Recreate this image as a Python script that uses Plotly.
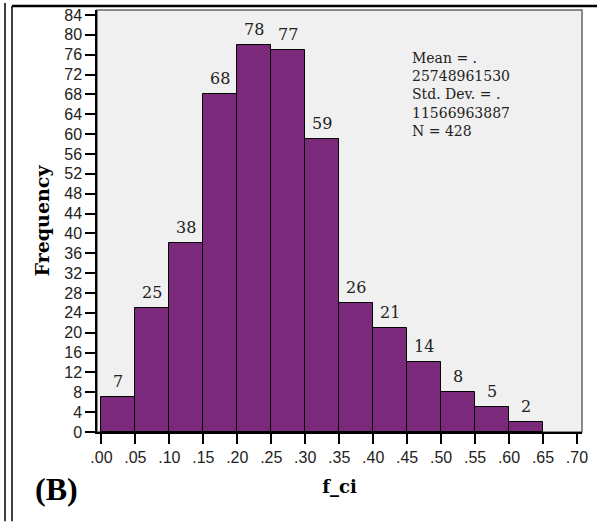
import numpy as np
import plotly.graph_objects as go

# ---- data ----
bin_edges = [0.00, 0.05, 0.10, 0.15, 0.20, 0.25, 0.30, 0.35, 0.40, 0.45, 0.50, 0.55, 0.60, 0.65]
counts = [7, 25, 38, 68, 78, 77, 59, 26, 21, 14, 8, 5, 2]
x_tickvals = [0.00, 0.05, 0.10, 0.15, 0.20, 0.25, 0.30, 0.35, 0.40, 0.45, 0.50, 0.55, 0.60, 0.65, 0.70]
x_ticktext = [".00", ".05", ".10", ".15", ".20", ".25", ".30", ".35", ".40", ".45", ".50", ".55", ".60", ".65", ".70"]
stats_lines = ["Mean = .", "25748961530", "Std. Dev. = .", "11566963887", "N = 428"]

edges = np.array(bin_edges)
width = edges[1] - edges[0]
centers = edges[:-1] + width / 2

W, H = 597, 522
L, R, T, B = 97, 15, 7, 90
pw, ph = W - L - R, H - T - B


def px(x):
    return (x - L) / pw


def py(y):
    return (H - B - y) / ph


fig = go.Figure()
fig.add_trace(go.Bar(
    x=centers, y=counts, width=width,
    marker=dict(color="#7B2A7B", line=dict(color="black", width=1)),
    showlegend=False, hoverinfo="x+y",
))

annotations = []
for c, n in zip(centers, counts):
    annotations.append(dict(x=c, y=n, xref="x", yref="y", text=str(n), showarrow=False,
                            yanchor="bottom", yshift=4,
                            font=dict(family="DejaVu Serif", size=16, color="#222")))

annotations.append(dict(x=px(410), y=py(92), xref="paper", yref="paper",
                        text="<br>".join(stats_lines), align="left",
                        showarrow=False, xanchor="left", yanchor="middle",
                        font=dict(family="DejaVu Serif", size=14, color="#222")))

annotations.append(dict(x=px(56), y=py(489), xref="paper", yref="paper", text="<b>(B)</b>",
                        showarrow=False, xanchor="center", yanchor="middle",
                        font=dict(family="Liberation Serif", size=32, color="black")))

shapes = [
    dict(type="rect", xref="paper", yref="paper", x0=0, x1=1, y0=0, y1=1,
         line=dict(color="#666", width=1.5), fillcolor="rgba(0,0,0,0)", layer="below"),
    dict(type="line", xref="paper", yref="paper", x0=px(5), x1=px(5), y0=py(0), y1=py(522),
         line=dict(color="black", width=1.5)),
    dict(type="line", xref="paper", yref="paper", x0=px(12), x1=px(12), y0=py(3), y1=py(522),
         line=dict(color="black", width=1.5)),
    dict(type="line", xref="paper", yref="paper", x0=px(12), x1=px(597), y0=py(3), y1=py(3),
         line=dict(color="black", width=2.5)),
]

fig.update_layout(
    width=W, height=H,
    margin=dict(l=L, r=R, t=T, b=B, pad=0),
    paper_bgcolor="white", plot_bgcolor="#F0F0F0",
    bargap=0,
    annotations=annotations, shapes=shapes,
    xaxis=dict(range=[-0.0065, 0.7074], tickvals=x_tickvals, ticktext=x_ticktext,
               ticks="outside", ticklen=10, tickwidth=1.5, tickcolor="black",
               showline=True, linecolor="black", linewidth=1.5, showgrid=False, zeroline=False,
               tickfont=dict(family="Liberation Sans", size=16, color="#222"),
               title=dict(text="<b>f_ci</b>", standoff=15,
                          font=dict(family="DejaVu Serif", size=18, color="black"))),
    yaxis=dict(range=[0, 85], dtick=4, tick0=0,
               ticks="outside", ticklen=10, tickwidth=1.5, tickcolor="black",
               showline=True, linecolor="black", linewidth=1.5, showgrid=False, zeroline=False,
               tickfont=dict(family="Liberation Sans", size=16, color="#222"),
               title=dict(text="<b>Frequency</b>", standoff=10,
                          font=dict(family="DejaVu Serif", size=19, color="black"))),
)

fig.write_html("out.html", config={"displayModeBar": False},
               post_script="document.body.style.margin='0';")
